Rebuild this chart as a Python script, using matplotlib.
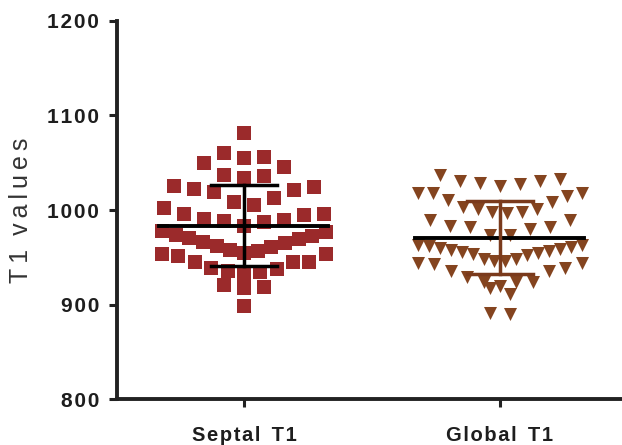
import numpy as np
import matplotlib.pyplot as plt

# =========================
# DATA
# =========================
categories = ["Septal T1", "Global T1"]

septal_t1 = [1081, 1060, 1056, 1055, 1050, 1046, 1037, 1036, 1034, 1025, 1024,
             1022, 1021, 1019, 1013, 1009, 1005, 1002, 996, 996, 995, 990, 989,
             988, 987, 983,
             978, 974, 970, 966, 962, 958, 977, 973, 969, 965, 961, 957, 955, 954,
             953, 951, 945, 945, 945, 939, 938, 936, 934, 932, 921, 919, 918, 899]

global_t1 = [1037, 1033, 1031, 1031, 1029, 1028, 1025, 1018, 1018, 1018, 1015,
             1011, 1009, 1003, 1001, 1001, 998, 998, 997, 989, 989, 983, 982, 982,
             980, 974, 974,
             963, 962, 960, 958, 957, 955, 963, 961, 959, 956, 954, 952,
             948, 946, 944, 944, 946, 948,
             943, 939, 936, 936, 929, 924, 924, 924, 920, 918, 911, 891, 890]

yticks = [800, 900, 1000, 1100, 1200]

colors = ["#9b2a2b", "#84441f"]
markers = ["s", "v"]
bin_origin = [805, 820]


def spaced(s, sep="\u200a", gap="  "):
    # letter spacing inside words, wider gap between words
    return gap.join(sep.join(w) for w in s.split(" "))


def swarm(values, origin, bin_w=25.0, step=0.078, half=0.32):
    # GraphPad-like layout: points in the same row spread out,
    # lowest value in the middle, higher ones going outward
    values = np.asarray(values, dtype=float)
    xs = np.zeros(len(values))
    bins = np.floor((values - origin) / bin_w).astype(int)
    for b in np.unique(bins):
        idx = np.where(bins == b)[0]
        idx = idx[np.argsort(values[idx])]
        n = len(idx)
        d = step if n < 2 else min(step, 2 * half / (n - 1))
        if n % 2 == 0:
            slots = [(k // 2 + 0.5) * (1 if k % 2 == 0 else -1) for k in range(n)]
        else:
            slots = [((k + 1) // 2) * (1 if k % 2 == 1 else -1) for k in range(n)]
        for j, i in enumerate(idx):
            xs[i] = slots[j] * d
    return xs


plt.rcParams['font.family'] = ['Liberation Sans', 'DejaVu Sans']

fig = plt.figure(figsize=(6.22, 4.45), dpi=100)
ax = fig.add_axes([0.188, 0.103, 0.812, 0.850])

for i, vals in enumerate([septal_t1, global_t1]):
    xs = i + swarm(vals, bin_origin[i])
    ax.scatter(xs, vals, marker=markers[i], s=88, color=colors[i],
               linewidths=0, zorder=2)
    m = np.mean(vals)
    sd = np.std(vals, ddof=1)
    ax.plot([i - 0.33, i + 0.33], [m, m], color="black", lw=2.8, zorder=3)
    bar_c = "black" if i == 0 else "#7a3a1c"
    ax.plot([i, i], [m - sd, m + sd], color=bar_c, lw=2.5, zorder=3)
    for y in (m - sd, m + sd):
        ax.plot([i - 0.13, i + 0.13], [y, y], color=bar_c, lw=2.5, zorder=3)

ax.set_xlim(-0.496, 1.477)
ax.set_ylim(800, 1200)
ax.set_yticks(yticks)
ax.set_yticklabels([spaced(str(t)) for t in yticks], fontsize=15,
                   fontweight="bold", color="#1e1e1e")
ax.set_xticks([0, 1])
ax.set_xticklabels([spaced(c) for c in categories], fontsize=14.5,
                   fontweight="bold", color="#1e1e1e")
ax.tick_params(axis="both", length=6, width=2.2, color="#222222")
ax.tick_params(axis="x", pad=13)
ax.tick_params(axis="y", pad=7)
for side in ["top", "right"]:
    ax.spines[side].set_visible(False)
for side in ["left", "bottom"]:
    ax.spines[side].set_linewidth(2.8)
    ax.spines[side].set_color("#222222")
ax.set_ylabel(spaced("T1 values", "\u2009"), fontsize=18, color="#333333",
              labelpad=10)

fig.savefig("out.png", dpi=100)
